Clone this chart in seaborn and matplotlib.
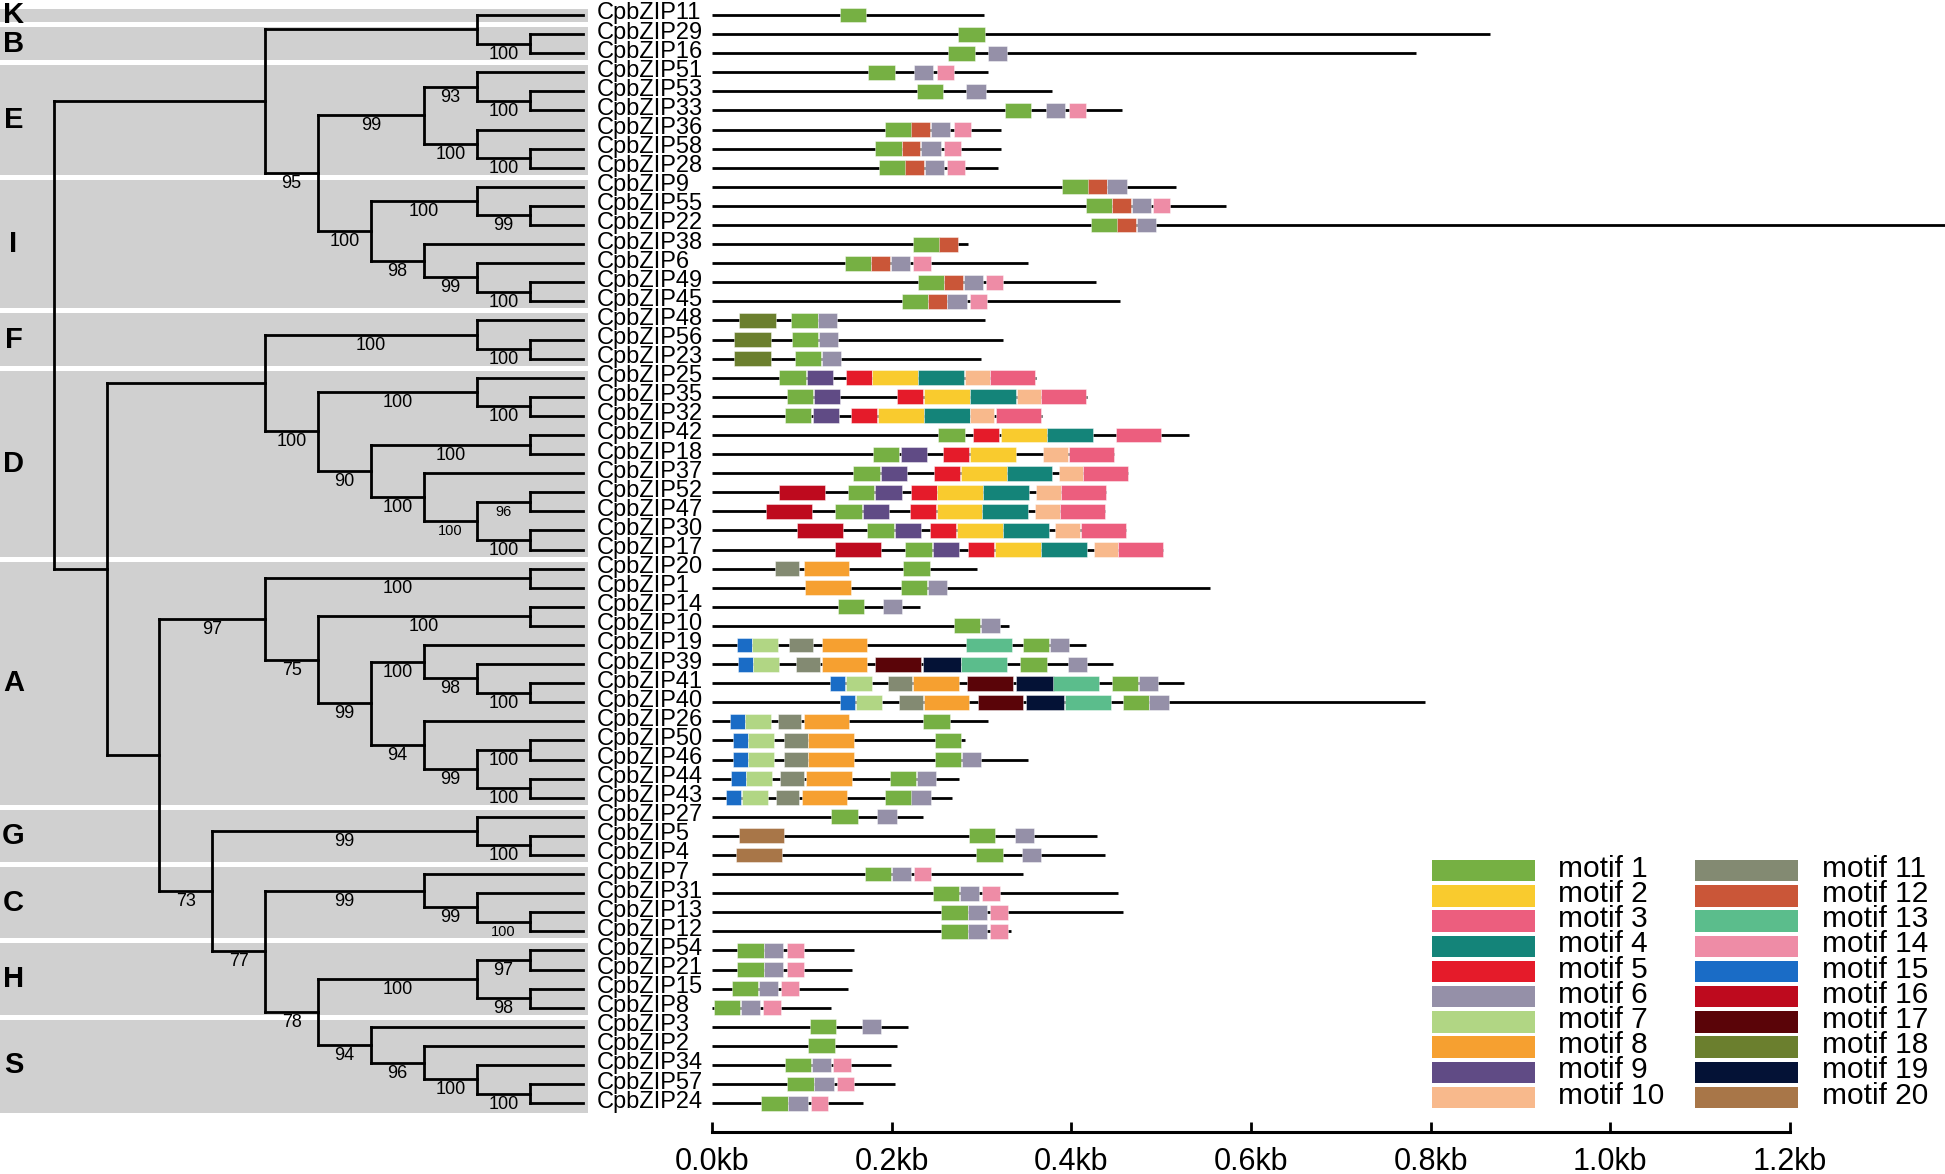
import matplotlib
matplotlib.use("Agg")
import matplotlib.pyplot as plt
from matplotlib import font_manager
import seaborn as sns

# ---------------- data ----------------
genes = ["CpbZIP11", "CpbZIP29", "CpbZIP16", "CpbZIP51", "CpbZIP53", "CpbZIP33", "CpbZIP36",
         "CpbZIP58", "CpbZIP28", "CpbZIP9", "CpbZIP55", "CpbZIP22", "CpbZIP38", "CpbZIP6",
         "CpbZIP49", "CpbZIP45", "CpbZIP48", "CpbZIP56", "CpbZIP23", "CpbZIP25", "CpbZIP35",
         "CpbZIP32", "CpbZIP42", "CpbZIP18", "CpbZIP37", "CpbZIP52", "CpbZIP47", "CpbZIP30",
         "CpbZIP17", "CpbZIP20", "CpbZIP1", "CpbZIP14", "CpbZIP10", "CpbZIP19", "CpbZIP39",
         "CpbZIP41", "CpbZIP40", "CpbZIP26", "CpbZIP50", "CpbZIP46", "CpbZIP44", "CpbZIP43",
         "CpbZIP27", "CpbZIP5", "CpbZIP4", "CpbZIP7", "CpbZIP31", "CpbZIP13", "CpbZIP12",
         "CpbZIP54", "CpbZIP21", "CpbZIP15", "CpbZIP8", "CpbZIP3", "CpbZIP2", "CpbZIP34",
         "CpbZIP57", "CpbZIP24"]

gene_length_kb = [0.303, 0.866, 0.784, 0.307, 0.379, 0.456, 0.322, 0.322, 0.318, 0.517,
                  0.572, 1.400, 0.285, 0.352, 0.428, 0.454, 0.304, 0.324, 0.299, 0.361,
                  0.418, 0.367, 0.531, 0.447, 0.463, 0.439, 0.437, 0.461, 0.502, 0.295,
                  0.554, 0.231, 0.331, 0.416, 0.446, 0.525, 0.794, 0.307, 0.282, 0.352,
                  0.275, 0.267, 0.235, 0.429, 0.437, 0.346, 0.452, 0.458, 0.333, 0.158,
                  0.156, 0.151, 0.133, 0.218, 0.206, 0.199, 0.204, 0.168]

group_names = ["K", "B", "E", "I", "F", "D", "A", "G", "C", "H", "S"]
group_sizes = [1, 2, 6, 7, 3, 10, 13, 3, 4, 4, 5]

motif_ids = [
    [1], [1], [1, 6], [1, 6, 14], [1, 6], [1, 6, 14],
    [1, 12, 6, 14], [1, 12, 6, 14], [1, 12, 6, 14], [1, 12, 6], [1, 12, 6, 14], [1, 12, 6],
    [1, 12], [1, 12, 6, 14], [1, 12, 6, 14], [1, 12, 6, 14],
    [18, 1, 6], [18, 1, 6], [18, 1, 6],
    [1, 9, 5, 2, 4, 10, 3], [1, 9, 5, 2, 4, 10, 3], [1, 9, 5, 2, 4, 10, 3], [1, 5, 2, 4, 3],
    [1, 9, 5, 2, 10, 3], [1, 9, 5, 2, 4, 10, 3], [16, 1, 9, 5, 2, 4, 10, 3],
    [16, 1, 9, 5, 2, 4, 10, 3], [16, 1, 9, 5, 2, 4, 10, 3], [16, 1, 9, 5, 2, 4, 10, 3],
    [11, 8, 1], [8, 1, 6], [1, 6], [1, 6],
    [15, 7, 11, 8, 13, 1, 6], [15, 7, 11, 8, 17, 19, 13, 1, 6],
    [15, 7, 11, 8, 17, 19, 13, 1, 6], [15, 7, 11, 8, 17, 19, 13, 1, 6],
    [15, 7, 11, 8, 1], [15, 7, 11, 8, 1], [15, 7, 11, 8, 1, 6], [15, 7, 11, 8, 1, 6],
    [15, 7, 11, 8, 1, 6],
    [1, 6], [20, 1, 6], [20, 1, 6],
    [1, 6, 14], [1, 6, 14], [1, 6, 14], [1, 6, 14],
    [1, 6, 14], [1, 6, 14], [1, 6, 14], [1, 6, 14],
    [1, 6], [1], [1, 6, 14], [1, 6, 14], [1, 6, 14]]

motif_starts_kb = [
    [0.142], [0.274], [0.263, 0.307], [0.174, 0.225, 0.250], [0.228, 0.283], [0.326, 0.372, 0.397],
    [0.193, 0.222, 0.244, 0.269], [0.182, 0.211, 0.233, 0.258], [0.186, 0.215, 0.237, 0.262],
    [0.390, 0.419, 0.440], [0.416, 0.445, 0.467, 0.491], [0.422, 0.451, 0.473],
    [0.224, 0.253], [0.148, 0.177, 0.199, 0.224], [0.229, 0.258, 0.280, 0.305],
    [0.211, 0.240, 0.262, 0.287],
    [0.030, 0.088, 0.118], [0.025, 0.089, 0.119], [0.025, 0.092, 0.122],
    [0.075, 0.106, 0.149, 0.178, 0.229, 0.282, 0.309],
    [0.083, 0.113, 0.206, 0.236, 0.287, 0.339, 0.366],
    [0.081, 0.112, 0.155, 0.185, 0.236, 0.287, 0.316],
    [0.252, 0.291, 0.322, 0.373, 0.450],
    [0.179, 0.210, 0.257, 0.287, 0.369, 0.397],
    [0.157, 0.188, 0.247, 0.277, 0.328, 0.386, 0.413],
    [0.075, 0.151, 0.182, 0.221, 0.251, 0.302, 0.361, 0.389],
    [0.060, 0.137, 0.168, 0.220, 0.250, 0.301, 0.360, 0.387],
    [0.095, 0.173, 0.204, 0.243, 0.273, 0.324, 0.382, 0.411],
    [0.137, 0.215, 0.246, 0.285, 0.315, 0.366, 0.425, 0.452],
    [0.070, 0.102, 0.213], [0.104, 0.210, 0.240], [0.140, 0.190], [0.269, 0.299],
    [0.028, 0.045, 0.086, 0.122, 0.283, 0.346, 0.376],
    [0.029, 0.046, 0.094, 0.122, 0.182, 0.235, 0.277, 0.343, 0.396],
    [0.131, 0.149, 0.196, 0.224, 0.284, 0.338, 0.380, 0.445, 0.475],
    [0.143, 0.160, 0.208, 0.236, 0.296, 0.350, 0.393, 0.457, 0.487],
    [0.020, 0.037, 0.073, 0.102, 0.235], [0.023, 0.040, 0.080, 0.107, 0.248],
    [0.023, 0.040, 0.080, 0.107, 0.248, 0.278], [0.021, 0.038, 0.076, 0.105, 0.198, 0.228],
    [0.016, 0.033, 0.071, 0.100, 0.193, 0.222],
    [0.133, 0.184], [0.030, 0.286, 0.337], [0.027, 0.294, 0.345],
    [0.170, 0.200, 0.225], [0.246, 0.276, 0.301], [0.255, 0.285, 0.310], [0.255, 0.285, 0.310],
    [0.028, 0.058, 0.083], [0.028, 0.058, 0.083], [0.022, 0.052, 0.077], [0.002, 0.032, 0.057],
    [0.109, 0.167], [0.107], [0.081, 0.111, 0.135], [0.084, 0.114, 0.139], [0.055, 0.085, 0.110]]

motif_labels = ["motif %d" % i for i in range(1, 21)]
motif_colors = ["#76B043", "#F9CB2E", "#EC5E7E", "#148479", "#E51B2A",
                "#9590A8", "#B1D684", "#F6A030", "#604B85", "#F8B98C",
                "#838A72", "#CA5638", "#5BBD8C", "#EE8CA6", "#1A6CC6",
                "#BE0A1E", "#5A0408", "#6B7F2E", "#041236", "#A87648"]
motif_width_kb = [0.0295, 0.0510, 0.0501, 0.0510, 0.0290, 0.0215, 0.0290, 0.0506, 0.0290, 0.0273,
                  0.0264, 0.0211, 0.0510, 0.0193, 0.0167, 0.0510, 0.0506, 0.0409, 0.0422, 0.0506]

tick_values = [0.0, 0.2, 0.4, 0.6, 0.8, 1.0, 1.2]
tick_labels = ["0.0kb", "0.2kb", "0.4kb", "0.6kb", "0.8kb", "1.0kb", "1.2kb"]

# tree: (node depth level, bootstrap, child, child); leaves are gene names
t_KB = (8, None, "CpbZIP11", (9, 100, "CpbZIP29", "CpbZIP16"))
t_E = (7, 99, (8, 93, "CpbZIP51", (9, 100, "CpbZIP53", "CpbZIP33")),
       (8, 100, "CpbZIP36", (9, 100, "CpbZIP58", "CpbZIP28")))
t_I = (6, 100, (8, 100, "CpbZIP9", (9, 99, "CpbZIP55", "CpbZIP22")),
       (7, 98, "CpbZIP38", (8, 99, "CpbZIP6", (9, 100, "CpbZIP49", "CpbZIP45"))))
t_F = (8, 100, "CpbZIP48", (9, 100, "CpbZIP56", "CpbZIP23"))
t_D = (5, 100, (8, 100, "CpbZIP25", (9, 100, "CpbZIP35", "CpbZIP32")),
       (6, 90, (9, 100, "CpbZIP42", "CpbZIP18"),
        (7, 100, "CpbZIP37", (8, 100, (9, 96, "CpbZIP52", "CpbZIP47"),
                               (9, 100, "CpbZIP30", "CpbZIP17")))))
t_A = (4, 97, (9, 100, "CpbZIP20", "CpbZIP1"),
       (5, 75, (9, 100, "CpbZIP14", "CpbZIP10"),
        (6, 99, (7, 100, "CpbZIP19", (8, 98, "CpbZIP39", (9, 100, "CpbZIP41", "CpbZIP40"))),
         (7, 94, "CpbZIP26", (8, 99, (9, 100, "CpbZIP50", "CpbZIP46"),
                               (9, 100, "CpbZIP44", "CpbZIP43"))))))
t_G = (8, 99, "CpbZIP27", (9, 100, "CpbZIP5", "CpbZIP4"))
t_C = (7, 99, "CpbZIP7", (8, 99, "CpbZIP31", (9, 100, "CpbZIP13", "CpbZIP12")))
t_H = (8, 100, (9, 97, "CpbZIP54", "CpbZIP21"), (9, 98, "CpbZIP15", "CpbZIP8"))
t_S = (6, 94, "CpbZIP3", (7, 96, "CpbZIP2", (8, 100, "CpbZIP34", (9, 100, "CpbZIP57", "CpbZIP24"))))
tree = (0, None,
        (4, None, t_KB, (5, 95, t_E, t_I)),
        (1, None, (4, None, t_F, t_D),
         (2, None, t_A, (3, 73, t_G, (4, 77, t_C, (5, 78, t_H, t_S))))))
small_label_clades = ["CpbZIP52", "CpbZIP13"]

# ---------------- style ----------------
sns.set_theme(style="white")
plt.rcParams["font.family"] = ["Liberation Sans", "DejaVu Sans"]
available = {f.name for f in font_manager.fontManager.ttflist}
if "Liberation Sans Narrow" in available:
    narrow_family = ["Liberation Sans Narrow", "Liberation Sans", "DejaVu Sans"]
    gene_fs, boot_fs, boot_small_fs = 20.5, 15.5, 12.5
else:
    narrow_family = ["Liberation Sans", "DejaVu Sans"]
    gene_fs, boot_fs, boot_small_fs = 17, 13, 10.5

palette = sns.color_palette(motif_colors)

W, H = 1945, 1174
fig = plt.figure(figsize=(W / 100, H / 100), dpi=100)
fig.patch.set_facecolor("white")

ax_bottom_px = 1132
row0_px, row_step_px = 15.0, 19.09
y_top = -row0_px / row_step_px
y_bot = (ax_bottom_px - row0_px) / row_step_px
fb = (H - ax_bottom_px) / H
fh = ax_bottom_px / H

# tree axes
tree_right_px = 588
lvl0_px, lvl_step_px = 53.6, 52.9
axT = fig.add_axes([0, fb, tree_right_px / W, fh])
axT.set_xlim(-lvl0_px / lvl_step_px, (tree_right_px - lvl0_px) / lvl_step_px)
axT.set_ylim(y_bot, y_top)
axT.axis("off")

# motif axes
kb0_px, kb_px = 712.0, 898.3
mot_left_px = 590
axM = fig.add_axes([mot_left_px / W, fb, (W - mot_left_px) / W, fh])
axM.set_xlim((mot_left_px - kb0_px) / kb_px, (W - kb0_px) / kb_px)
axM.set_ylim(y_bot, y_top)
axM.set_facecolor("none")

# ---------------- group bands ----------------
gap = 0.262
start = 0
n_rows = len(genes)
for gi, (gname, n) in enumerate(zip(group_names, group_sizes)):
    top = start - 0.5 + gap / 2 if gi > 0 else -0.32
    bot = start + n - 0.5 - gap / 2 if gi < len(group_names) - 1 else n_rows - 1 + 0.52
    axT.axhspan(top, bot, color="#d0d0d0", lw=0, zorder=0)
    axT.text((13.5 - lvl0_px) / lvl_step_px, start + (n - 1) / 2, gname,
             ha="center", va="center", fontsize=21, fontweight="bold", color="black", zorder=3)
    start += n

# ---------------- tree ----------------
LEAF_LEVEL = 10
row_of = {g: i for i, g in enumerate(genes)}
tree_lw = 2.0


def level_of(node):
    return LEAF_LEVEL if isinstance(node, str) else node[0]


def first_leaf(node):
    return node if isinstance(node, str) else first_leaf(node[2])


def draw(node):
    if isinstance(node, str):
        return row_of[node]
    lvl, boot, *children = node
    ys = [draw(c) for c in children]
    axT.plot([lvl, lvl], [min(ys), max(ys)], color="black", lw=tree_lw,
             solid_capstyle="projecting", zorder=2)
    for c, y in zip(children, ys):
        cl = level_of(c)
        axT.plot([lvl, cl], [y, y], color="black", lw=tree_lw,
                 solid_capstyle="projecting", zorder=2)
        if not isinstance(c, str) and c[1] is not None:
            fs = boot_small_fs if first_leaf(c) in small_label_clades else boot_fs
            axT.text((lvl + cl) / 2, y + 0.55, str(c[1]), ha="center", va="center",
                     fontsize=fs, family=narrow_family, color="black", zorder=3)
    return (min(ys) + max(ys)) / 2


draw(tree)

# ---------------- gene structures ----------------
rows = list(range(n_rows))
axM.hlines(rows, 0, gene_length_kb, color="black", lw=2.0, zorder=1)
for r, ids, starts in zip(rows, motif_ids, motif_starts_kb):
    axM.barh([r] * len(ids), [motif_width_kb[m - 1] for m in ids], left=starts,
             height=0.78, color=[palette[m - 1] for m in ids],
             edgecolor=(1, 1, 1, 0.6), linewidth=0.5, zorder=2)
for r, g in zip(rows, genes):
    axM.text((597 - kb0_px) / kb_px, r - 0.08, g, ha="left", va="center",
             fontsize=gene_fs, family=narrow_family, color="black")

# ---------------- legend ----------------
box_x = [(1432 - kb0_px) / kb_px, (1695 - kb0_px) / kb_px]
box_w = 103 / kb_px
text_x = [(1558 - kb0_px) / kb_px, (1822 - kb0_px) / kb_px]
leg_top = (860 - row0_px) / row_step_px
leg_step = 25.2 / row_step_px
leg_h = 21.3 / row_step_px
for k, (lab, col) in enumerate(zip(motif_labels, palette)):
    c, r = divmod(k, 10)
    top = leg_top + r * leg_step
    axM.barh(top + leg_h / 2, box_w, left=box_x[c], height=leg_h, color=col, lw=0, zorder=2)
    axM.text(text_x[c], top + 0.875, lab, ha="left", va="baseline",
             fontsize=21.5, color="black")

# ---------------- axis ----------------
sns.despine(ax=axM, left=True, top=True, right=True, bottom=False)
axM.spines["bottom"].set_bounds(tick_values[0], tick_values[-1])
axM.spines["bottom"].set_linewidth(2.2)
axM.spines["bottom"].set_color("black")
axM.set_xticks(tick_values)
axM.set_xticklabels(tick_labels)
axM.tick_params(axis="x", direction="in", length=7.5, width=2.0, color="black",
                pad=11, labelsize=22, labelcolor="black", bottom=True)
axM.set_yticks([])
axM.grid(False)

fig.savefig("out.png", dpi=100, facecolor="white")
